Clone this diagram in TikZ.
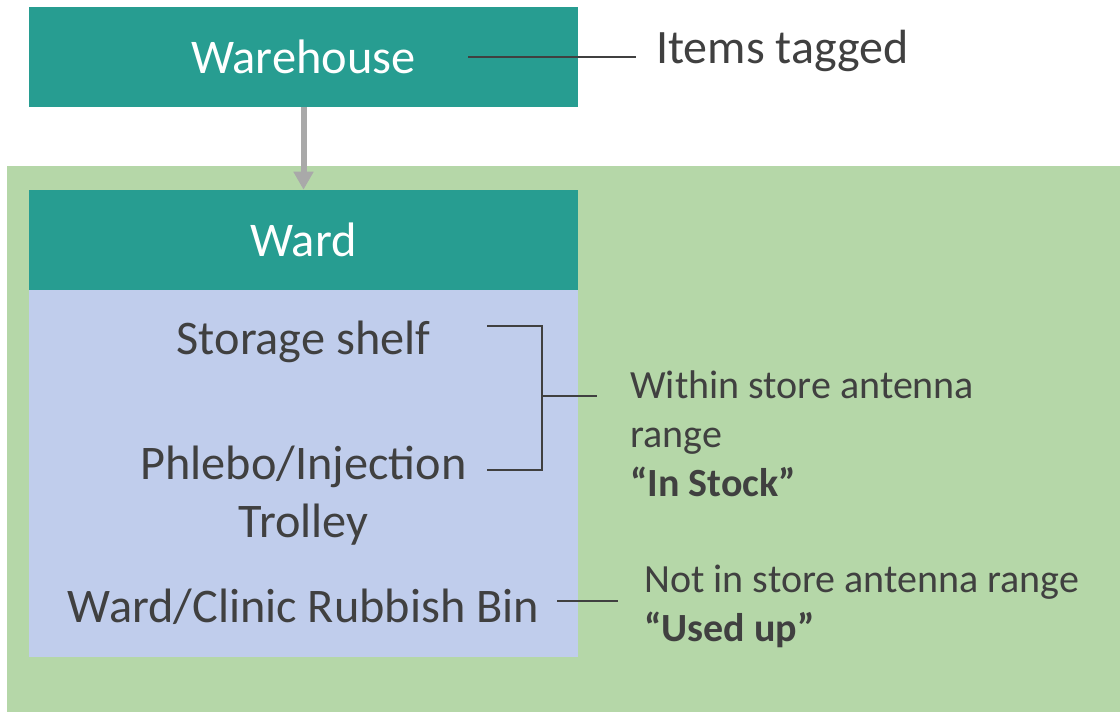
\documentclass[tikz,border=0pt]{standalone}
\usepackage{fontspec}
\setmainfont{Carlito}
\usetikzlibrary{arrows.meta}
\definecolor{teal}{HTML}{279D91}
\definecolor{zone}{HTML}{B5D7A8}
\definecolor{shelfblue}{HTML}{C0CDEC}
\definecolor{arrowgray}{HTML}{A9A9A9}
\definecolor{ink}{HTML}{404040}
\tikzset{
  box/.style={fill=teal, draw=none, text=white, inner sep=0pt, minimum width=411.75pt, minimum height=75pt},
  lbl/.style={text=ink, inner sep=0pt, anchor=base west, align=left},
  inlbl/.style={text=ink, inner sep=0pt, anchor=base, align=center},
  lead/.style={draw=ink, line width=1.125pt},
  flow/.style={draw=arrowgray, line width=4.5pt, -{Triangle[width=14.25pt,length=13.5pt]}}
}
\begin{document}
\begin{tikzpicture}[x=0.75pt, y=-0.75pt]
\useasboundingbox (0,0) rectangle (1120,712);
% coverage area of the store antenna
\fill[zone] (7,166) rectangle (1120,712);
% ward contents
\fill[shelfblue] (29,290) rectangle (578,657);
% boxes
\node[box, font=\fontsize{36.3pt}{43pt}\selectfont] (warehouse) at (303.5,57) {Warehouse};
\node[box, font=\fontsize{36.3pt}{43pt}\selectfont] (ward) at (303.5,240) {Ward};
\draw[flow] (warehouse.south) -- (ward.north);
% items in the ward (base anchor sits on the last line)
\begin{scope}[font=\fontsize{36.2pt}{43.5pt}\selectfont]
\node[inlbl] (shelf) at (303.5,355) {Storage shelf};
\node[inlbl] (trolley) at (303.5,537) {Phlebo/Injection\\Trolley};
\node[inlbl] (bin) at (303.5,622) {Ward/Clinic Rubbish Bin};
\end{scope}
% notes
\node[lbl, font=\fontsize{36pt}{43pt}\selectfont] (tagged) at (656,64) {Items tagged};
\begin{scope}[font=\fontsize{30pt}{36.75pt}\selectfont]
\node[lbl] (instock) at (630,496) {Within store antenna\\range\\\textbf{“In Stock”}};
\node[lbl] (usedup) at (644,641) {Not in store antenna range\\\textbf{“Used up”}};
\end{scope}
% leader lines
\coordinate (tagA) at (468,57);
\coordinate (tagB) at (636,57);
\draw[lead] (tagA) -- (tagB);
\coordinate (shelfEnd) at (487,326);
\coordinate (trolleyEnd) at (487,470);
\coordinate (brTop) at (542,326);
\coordinate (brBot) at (542,470);
\coordinate (brMid) at (542,396);
\coordinate (brOut) at (597,396);
\draw[lead] (shelfEnd) -- (brTop) -- (brBot) -- (trolleyEnd);
\draw[lead] (brMid) -- (brOut);
\coordinate (binA) at (557,601);
\coordinate (binB) at (618,601);
\draw[lead] (binA) -- (binB);
\end{tikzpicture}
\end{document}
